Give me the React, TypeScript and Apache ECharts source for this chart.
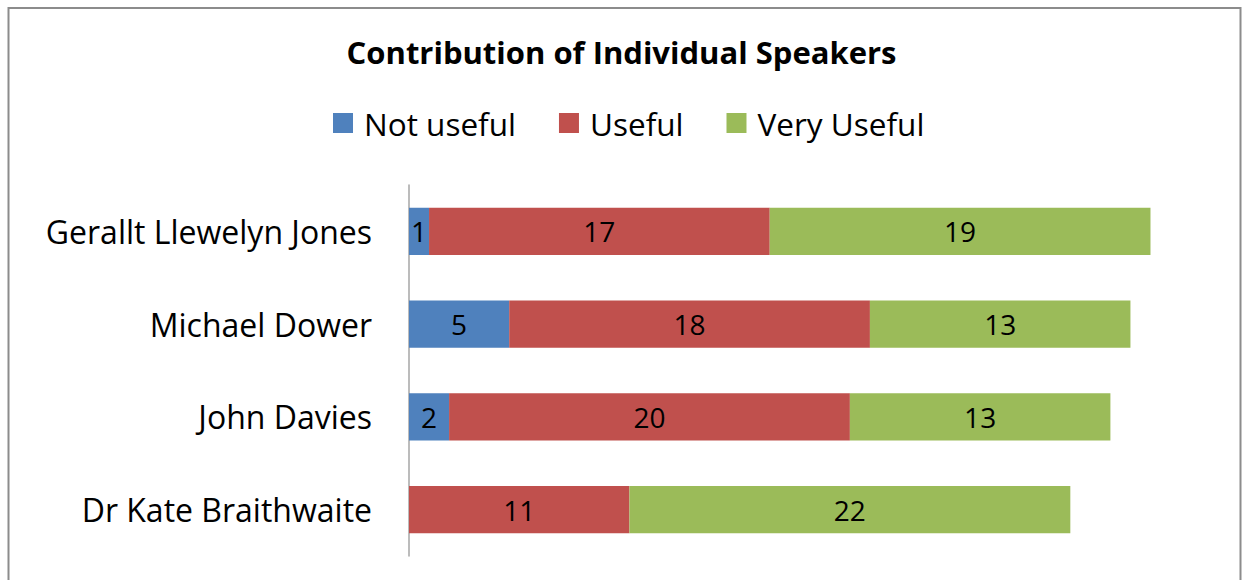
import React, { useEffect, useRef } from "react";
import * as echarts from "echarts";

const categories = ["Gerallt Llewelyn Jones", "Michael Dower", "John Davies", "Dr Kate Braithwaite"];
const notUseful = [1, 5, 2, 0];
const useful = [17, 18, 20, 11];
const veryUseful = [19, 13, 13, 22];
const seriesNames = ["Not useful", "Useful", "Very Useful"];
const colors = ["#4F81BD", "#C0504D", "#9BBB59"];

const FONT = "'Open Sans', sans-serif";

export default function App() {
  const ref = useRef<HTMLDivElement>(null);
  useEffect(() => {
    if (!ref.current) return;
    const chart = echarts.init(ref.current, undefined, { renderer: "svg" });
    const labelCfg = {
      show: true,
      position: "inside",
      color: "#000",
      fontFamily: FONT,
      fontSize: 28,
      formatter: (p: any) => (p.value > 0 ? String(p.value) : ""),
    };
    const dataSets = [notUseful, useful, veryUseful];
    chart.setOption({
      animation: false,
      backgroundColor: "#fff",
      title: {
        text: "Contribution of Individual Speakers",
        left: "center",
        top: 31,
        textStyle: { fontFamily: FONT, fontWeight: "bold", fontSize: 31, color: "#000", lineHeight: 32 },
      },
      legend: {
        top: 102,
        left: 328,
        itemWidth: 20,
        itemHeight: 20,
        itemGap: 43,
        icon: "rect",
        data: seriesNames,
        textStyle: { fontFamily: FONT, fontSize: 31.5, color: "#000", padding: [0, 0, 0, 6] },
      },
      grid: { left: 409, right: 32.4, top: 185, bottom: 24, containLabel: false },
      xAxis: {
        type: "value",
        min: 0,
        max: 40,
        show: false,
      },
      yAxis: {
        type: "category",
        data: categories,
        inverse: true,
        axisLine: { show: true, lineStyle: { color: "#A6A6A6", width: 1.5 } },
        axisTick: { show: false },
        axisLabel: { fontFamily: FONT, fontSize: 32, color: "#000", margin: 37 },
      },
      series: seriesNames.map((name, i) => ({
        name,
        type: "bar",
        stack: "total",
        data: dataSets[i],
        barWidth: "51%",
        itemStyle: { color: colors[i] },
        label: labelCfg,
      })),
      graphic: [
        {
          type: "rect",
          shape: { x: 8.5, y: 8, width: 1232, height: 600 },
          style: { fill: "none", stroke: "#8C8C8C", lineWidth: 2 },
          silent: true,
        },
      ],
    });
    return () => chart.dispose();
  }, []);
  return <div ref={ref} style={{ position: "absolute", left: 0, top: 0, width: 1243, height: 580 }} />;
}
